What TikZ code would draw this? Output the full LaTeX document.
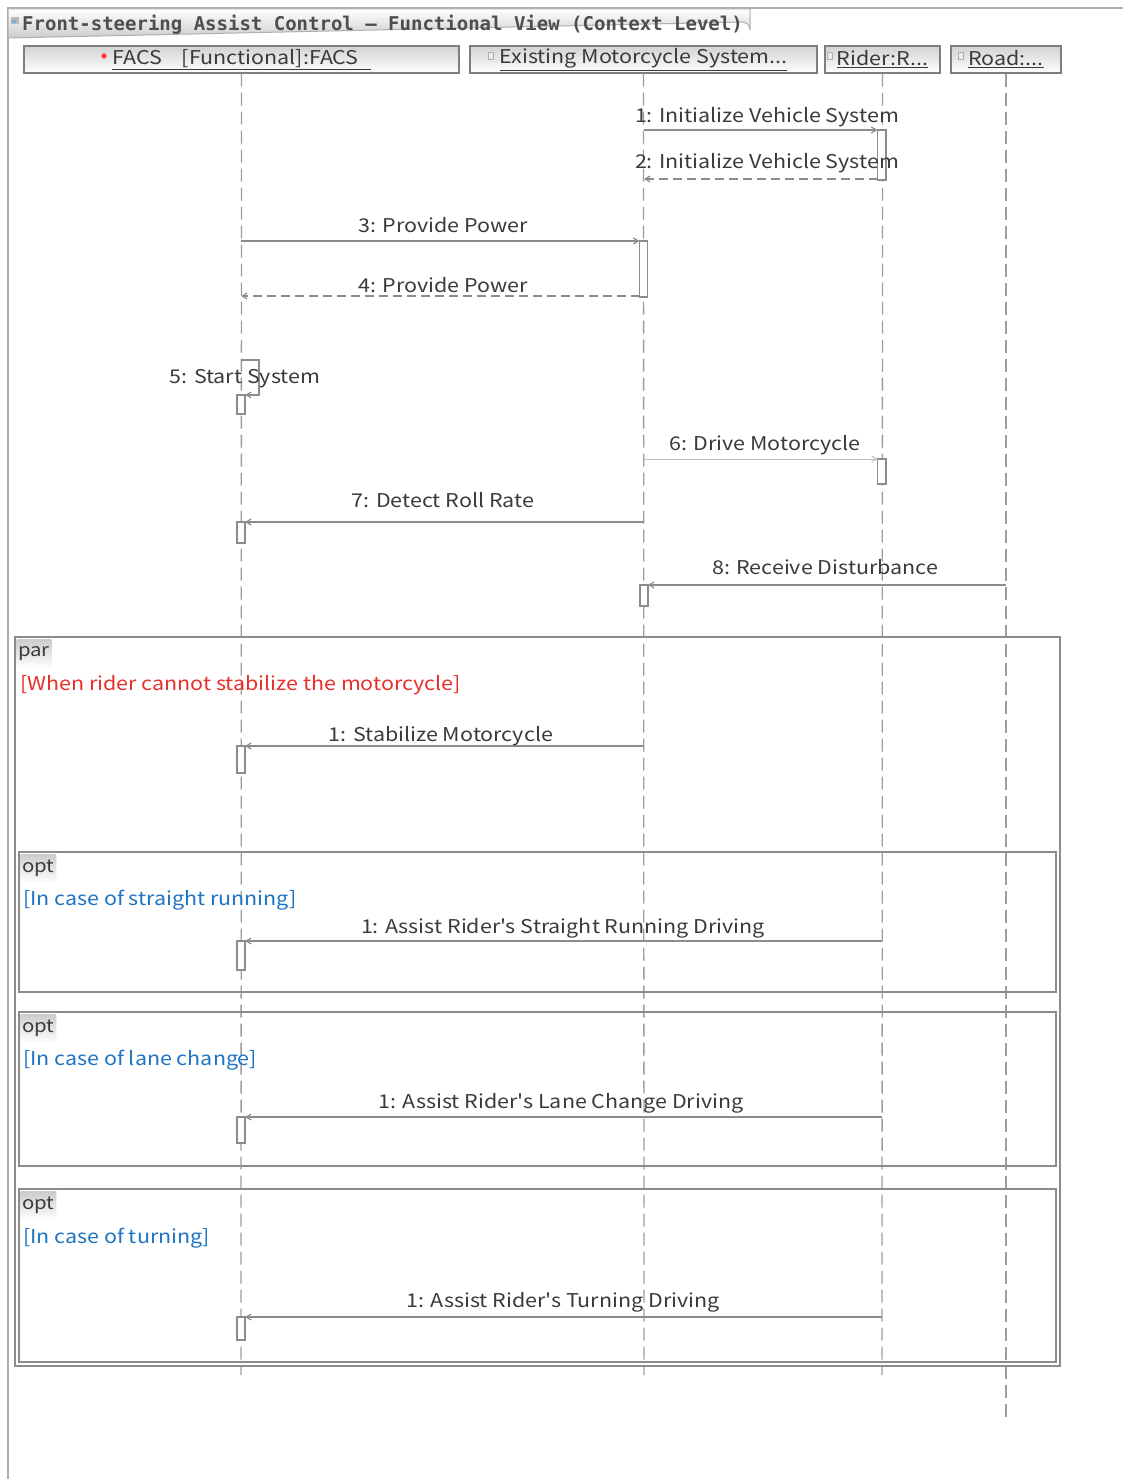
\documentclass[tikz,border=0pt]{standalone}
\usepackage{fontspec}
\newfontfamily\jp[FakeStretch=1.13]{Noto Sans CJK JP}
\newfontfamily\ttl{DejaVu Sans Mono}
\usetikzlibrary{arrows.meta,calc}
\definecolor{ln}{HTML}{8C8C8C}
\definecolor{txt}{HTML}{3A3A3A}
\definecolor{grd}{HTML}{E8302A}
\definecolor{gblue}{HTML}{1E74C4}
\tikzset{
  msg/.style={draw=ln, line width=1.2pt, -{Straight Barb[length=5pt,width=6pt]}},
  reply/.style={msg, dash pattern=on 9pt off 5pt},
  lbl/.style={text=txt, font=\jp\fontsize{19}{22}\selectfont, inner sep=0pt, anchor=base},
  guard/.style={font=\jp\fontsize{19}{22}\selectfont, inner sep=0pt, anchor=base west},
  act/.style={draw=ln, fill=white, line width=1.2pt},
  lifeline/.style={draw=ln!85, line width=1.3pt, dash pattern=on 13pt off 6pt},
  head/.style={draw=ln!90!black, line width=1.2pt, top color=gray!35, bottom color=white,
    minimum height=27pt, inner sep=0pt, text=txt, font=\jp\fontsize{19}{22}\selectfont},
  frag/.style={draw=ln, line width=1.6pt},
  tab/.style={top color=gray!40, bottom color=white, text=txt, inner sep=2pt,
    minimum height=29pt, minimum width=34pt,
    font=\jp\fontsize{18}{20}\selectfont, anchor=north west, rounded corners=1pt}
}
\begin{document}
\begin{tikzpicture}[x=1pt,y=-1pt]
\useasboundingbox (0,0) rectangle (1123,1479);
\fill[white] (0,0) rectangle (1123,1479);

% diagram frame and title tab
\draw[ln!70, line width=1.5pt] (1123,8) -- (8,8) -- (8,1479);
\path[top color=white, bottom color=gray!40, draw=ln!70, line width=1pt]
  (8,9) -- (750,9) -- (750,30) arc[start angle=0, end angle=90, radius=8pt] -- (8,38) -- cycle;
\node[anchor=base west, inner sep=0pt, text=txt!90, font=\ttl\bfseries\fontsize{19}{20}\selectfont]
  (title) at (22,31) {Front-steering Assist Control – Functional View (Context Level)};
\fill[gray!55] (11,17) rectangle (19,24);
\fill[gblue!60] (12,20) rectangle (16,23);

% lifeline heads
\node[head, minimum width=435pt] (facs) at (241.5,59.5) {\underline{FACS\hspace{20pt}[Functional]:FACS\hspace{12pt}}};
\node[head, minimum width=347pt] (ems) at (643.5,59.5) {\underline{Existing Motorcycle System...}};
\node[head, minimum width=115pt] (rider) at (882.5,59.5) {\underline{Rider:R...}};
\node[head, minimum width=110pt] (road) at (1006,59.5) {\underline{Road:...}};
\fill[red!80] (104,56) circle (2.6pt);
\foreach \ix in {491,830,961}{\draw[ln!70, line width=0.8pt, fill=gray!15] (\ix-2.5,52) rectangle (\ix+2.5,59);}

% lifelines
\coordinate (facsEnd) at (241,1375);
\coordinate (emsEnd) at (644,1375);
\coordinate (riderEnd) at (882,1375);
\coordinate (roadEnd) at (1006,1420);
\draw[lifeline] (facs.south) -- (facsEnd);
\draw[lifeline] (ems.south) -- (emsEnd);
\draw[lifeline] (rider.south) -- (riderEnd);
\draw[lifeline] (road.south) -- (roadEnd);

% activations
\draw[act] (877.5,130) rectangle (886,180);
\draw[act] (639.5,241) rectangle (647.5,297);
\draw[act] (237,395) rectangle (245,414);
\draw[act] (877.5,459) rectangle (886,484);
\draw[act] (237,522) rectangle (245,543);
\draw[act] (640,585) rectangle (648,606);

% messages
\coordinate (m1a) at (644,130); \coordinate (m1b) at (877.5,130);
\draw[msg] (m1a) -- (m1b);
\node[lbl] (l1) at (767,123) {1: Initialize Vehicle System};
\coordinate (m2a) at (877.5,179); \coordinate (m2b) at (644,179);
\draw[reply] (m2a) -- (m2b);
\node[lbl] (l2) at (767,169) {2: Initialize Vehicle System};

\coordinate (m3a) at (241,241); \coordinate (m3b) at (639.5,241);
\draw[msg] (m3a) -- (m3b);
\node[lbl] (l3) at (443,233) {3: Provide Power};
\coordinate (m4a) at (639.5,296); \coordinate (m4b) at (241,296);
\draw[reply] (m4a) -- (m4b);
\node[lbl] (l4) at (443,292) {4: Provide Power};

\coordinate (m5a) at (241,360); \coordinate (m5b) at (245,395);
\draw[msg] (m5a) -- (259,360) -- (259,395) -- (m5b);
\node[lbl] (l5) at (245,383) {5: Start System};

\coordinate (m6a) at (644,459); \coordinate (m6b) at (877.5,459);
\draw[msg, draw=ln!60, line width=0.9pt] (m6a) -- (m6b);
\node[lbl] (l6) at (765,450) {6: Drive Motorcycle};

\coordinate (m7a) at (644,522); \coordinate (m7b) at (245,522);
\draw[msg] (m7a) -- (m7b);
\node[lbl] (l7) at (443,507) {7: Detect Roll Rate};

\coordinate (m8a) at (1006,585); \coordinate (m8b) at (648,585);
\draw[msg] (m8a) -- (m8b);
\node[lbl] (l8) at (825,574) {8: Receive Disturbance};

% par fragment
\draw[frag] (15,637) rectangle (1060,1366);
\node[tab] (par) at (16,639) {par};
\node[guard, text=grd] (g0) at (20,690) {[When rider cannot stabilize the motorcycle]};
\draw[act] (237,746) rectangle (245,773);
\coordinate (s1a) at (644,746); \coordinate (s1b) at (245,746);
\draw[msg] (s1a) -- (s1b);
\node[lbl] (ls1) at (441,741) {1: Stabilize Motorcycle};

% opt: straight running
\draw[frag] (19,852) rectangle (1056,992);
\node[tab] (opt1) at (20,854) {opt};
\node[guard, text=gblue] (g1) at (23,905) {[In case of straight running]};
\draw[act] (237,941) rectangle (245,970);
\coordinate (o1a) at (882,941); \coordinate (o1b) at (245,941);
\draw[msg] (o1a) -- (o1b);
\node[lbl] (lo1) at (563,933) {1: Assist Rider's Straight Running Driving};

% opt: lane change
\draw[frag] (19,1012) rectangle (1056,1166);
\node[tab] (opt2) at (20,1014) {opt};
\node[guard, text=gblue] (g2) at (23,1065) {[In case of lane change]};
\draw[act] (237,1117) rectangle (245,1143);
\coordinate (o2a) at (882,1117); \coordinate (o2b) at (245,1117);
\draw[msg] (o2a) -- (o2b);
\node[lbl] (lo2) at (561,1108) {1: Assist Rider's Lane Change Driving};

% opt: turning
\draw[frag] (19,1189) rectangle (1056,1362);
\node[tab] (opt3) at (20,1191) {opt};
\node[guard, text=gblue] (g3) at (23,1243) {[In case of turning]};
\draw[act] (237,1317) rectangle (245,1340);
\coordinate (o3a) at (882,1317); \coordinate (o3b) at (245,1317);
\draw[msg] (o3a) -- (o3b);
\node[lbl] (lo3) at (563,1307) {1: Assist Rider's Turning Driving};
\end{tikzpicture}
\end{document}
